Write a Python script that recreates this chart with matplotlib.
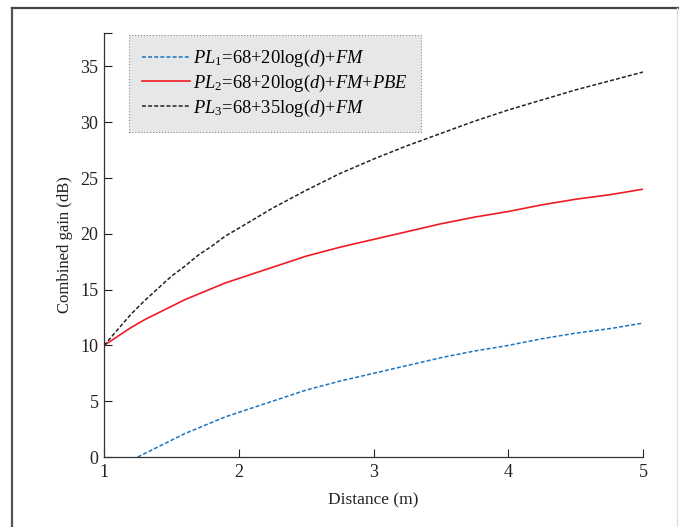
"""Combined gain vs distance for the three path-loss models."""
import matplotlib.pyplot as plt
from matplotlib.lines import Line2D

plt.rcParams["font.family"] = ["Liberation Serif", "DejaVu Serif"]
plt.rcParams["mathtext.fontset"] = "custom"
plt.rcParams["mathtext.rm"] = "Liberation Serif"
plt.rcParams["mathtext.it"] = "Liberation Serif:italic"

# distance samples (m)
dist = [1, 1.1, 1.2, 1.3, 1.4, 1.5, 1.6, 1.7, 1.8, 1.9, 2,
        2.25, 2.5, 2.75, 3, 3.25, 3.5, 3.75, 4, 4.25, 4.5, 4.75, 5]
pl2_gain = [10, 10.8, 11.6, 12.3, 12.9, 13.5, 14.1, 14.6, 15.1, 15.6, 16.0,
            17.0, 18.0, 18.8, 19.5, 20.2, 20.9, 21.5, 22.0, 22.6, 23.1, 23.5, 24.0]
pl3_gain = [10, 11.4, 12.8, 14.0, 15.1, 16.2, 17.1, 18.1, 18.9, 19.8, 20.5,
            22.3, 23.9, 25.4, 26.7, 27.9, 29.0, 30.1, 31.1, 32.0, 32.9, 33.7, 34.5]

dist1 = [1.25, 1.3, 1.4, 1.5, 1.6, 1.7, 1.8, 1.9, 2,
         2.25, 2.5, 2.75, 3, 3.25, 3.5, 3.75, 4, 4.25, 4.5, 4.75, 5]
pl1_gain = [0.0, 0.3, 0.9, 1.5, 2.1, 2.6, 3.1, 3.6, 4.0,
            5.0, 6.0, 6.8, 7.5, 8.2, 8.9, 9.5, 10.0, 10.6, 11.1, 11.5, 12.0]

labels = [
    r"$PL_{\mathrm{1}}$=68+20log($d$)+$FM$",
    r"$PL_{\mathrm{2}}$=68+20log($d$)+$FM$+$PBE$",
    r"$PL_{\mathrm{3}}$=68+35log($d$)+$FM$",
]

BLUE = "#1a74c0"
RED = "#ee1c24"
BLACK = "#222222"

fig = plt.figure(figsize=(6.79, 5.27), dpi=100)
ax = fig.add_axes([0.1532, 0.1328, 0.7938, 0.8046])

ax.plot(dist1, pl1_gain, color=BLUE, lw=1.1, ls=(0, (2.6, 1.4)), label=labels[0])
ax.plot(dist, pl2_gain, color=RED, lw=1.2, label=labels[1])
ax.plot(dist, pl3_gain, color=BLACK, lw=1.1, ls=(0, (2.6, 1.4)), label=labels[2])

ax.set_xlim(1, 5)
ax.set_ylim(0, 38)
ax.set_xticks([1, 2, 3, 4, 5])
ax.set_yticks([0, 5, 10, 15, 20, 25, 30, 35, 38],
              ["0", "5", "10", "15", "20", "25", "30", "35", ""])
ax.tick_params(direction="in", length=6, width=0.8, labelsize=13, colors="#222222")
ax.tick_params(axis="x", pad=5)
ax.tick_params(axis="y", pad=4)
for side in ("top", "right"):
    ax.spines[side].set_visible(False)
for side in ("left", "bottom"):
    ax.spines[side].set_color("#333333")
    ax.spines[side].set_linewidth(0.9)

ax.set_xlabel("Distance (m)", fontsize=12.5, color="#222222", labelpad=8)
ax.set_ylabel("Combined gain (dB)", fontsize=12, color="#222222", labelpad=5)

leg = ax.legend(loc="upper left", bbox_to_anchor=(0.046, 0.995), borderaxespad=0,
                fontsize=13.3, handlelength=2.6, handletextpad=0.2, labelspacing=0.2,
                borderpad=0.7, fancybox=False, framealpha=1)
leg.get_frame().set_facecolor("#e6e7e8")
leg.get_frame().set_edgecolor("#8a8a8a")
leg.get_frame().set_linestyle(":")
leg.get_frame().set_linewidth(0.8)

# outer frame around the figure
fig.add_artist(Line2D([12 / 679, 12 / 679], [0, 1 - 8 / 527], color="#555555", lw=1.6))
fig.add_artist(Line2D([12 / 679, 1], [1 - 8 / 527, 1 - 8 / 527], color="#444444", lw=1.6))
fig.add_artist(Line2D([677 / 679, 677 / 679], [0, 1 - 8 / 527], color="#dddddd", lw=1))

fig.savefig("out.png", dpi=100)
